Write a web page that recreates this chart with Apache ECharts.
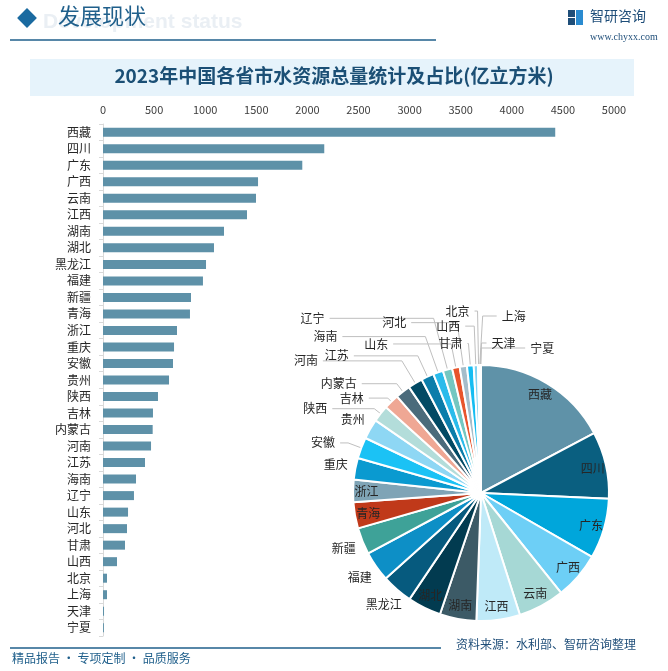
<!DOCTYPE html>
<html>
<head>
<meta charset="utf-8">
<script src="https://cdn.jsdelivr.net/npm/echarts@6/dist/echarts.min.js"></script>
<style>
html,body{margin:0;padding:0;background:#fff;}
#c{width:668px;height:671px;}
</style>
</head>
<body>
<div id="c"></div>
<script>
// ---- data ----
const provinces = ['西藏','四川','广东','广西','云南','江西','湖南','湖北','黑龙江','福建','新疆','青海','浙江','重庆','安徽','贵州','陕西','吉林','内蒙古','河南','江苏','海南','辽宁','山东','河北','甘肃','山西','北京','上海','天津','宁夏'];
const waterTotal = [4425,2165,1950,1517,1497,1409,1184,1086,1008,978,861,851,724,695,685,646,538,489,486,470,411,323,303,245,235,215,137,39,39,10,9];
const xTicks = [0,500,1000,1500,2000,2500,3000,3500,4000,4500,5000];

// ---- style config ----
const sliceColors = ['#5F92A8','#0A5F80','#00A6DB','#6DCFF6','#A6D8D5','#BFEAF8','#3C5A66','#023B50','#065A7E','#0D8FC6','#3EA298','#C0391A','#7FA4B6','#0A9AD0','#1BC2F5','#8ED7F4','#B3DDDA','#EFA794','#4B6B7B','#024A64','#0B7DAA','#2ABBEB','#74C7C1','#E8552C','#A5BDCA','#15BDF2','#7FD3F2','#A4D6D6','#C9EEF9','#4B6B7B','#8CB3C5'];
const insideLabels = ['西藏','四川','广东','广西','云南','江西','湖南','湖北','浙江','青海'];
const ringLabels = ['黑龙江','福建','新疆','重庆','贵州'];
// [length, length2] of label lines for the outside labels
const lineLen = {'安徽':[14,8],'陕西':[8,42],'吉林':[5,19],'内蒙古':[10,35],'河南':[26,79],'江苏':[23,64],'海南':[38,83],'辽宁':[53,104],'山东':[24,58],'河北':[44,46],'甘肃':[22,1],'山西':[39,9],'北京':[54,3],'上海':[49,14],'天津':[22,5],'宁夏':[17,44]};
const mirrorLabels = ['上海','天津','宁夏'];
const CX = 481, CY = 493, R = 128;

const FONT = '"Noto Sans CJK SC","Noto Sans",sans-serif';
const chart = echarts.init(document.getElementById('c'), null, {renderer:'canvas'});

const mainPieData = provinces.map((p,i)=>{
  const ll = lineLen[p];
  return {
    name:p, value:waterTotal[i],
    itemStyle:{color:sliceColors[i]},
    label:{show: !!ll},
    labelLine: ll ? {show:true, length:ll[0], length2:ll[1]} : {show:false}
  };
});
const overlayPieData = provinces.map((p,i)=>({
  name:p, value:waterTotal[i],
  label:{show: insideLabels.indexOf(p)>=0}
}));
const ringPieData = provinces.map((p,i)=>({
  name:p, value:waterTotal[i],
  label:{show: ringLabels.indexOf(p)>=0}
}));

const option = {
  backgroundColor:'#fff',
  animation:false,
  graphic:[
    {type:'text', left:43, top:12, z:1, style:{text:'Development status', font:'bold 21px Arial, "Liberation Sans"', fill:'#EAEFF4'}},
    {type:'rect', shape:{x:20,y:11,width:14,height:14}, rotation:Math.PI/4, originX:27, originY:18, style:{fill:'#1A6AA0'}, z:2},
    {type:'text', left:58, top:5, z:3, style:{text:'发展现状', font:'22px '+FONT, fill:'#1F5F8B'}},
    {type:'line', shape:{x1:10,y1:40,x2:436,y2:40}, style:{stroke:'#1F5F8B', lineWidth:1.5}},
    {type:'rect', shape:{x:568,y:10,width:7,height:7}, style:{fill:'#1F4E79'}},
    {type:'rect', shape:{x:568,y:18,width:7,height:7}, style:{fill:'#1F4E79'}},
    {type:'rect', shape:{x:576,y:10,width:7,height:15}, style:{fill:'#2A8BD0'}},
    {type:'text', left:590, top:9, style:{text:'智研咨询', font:'14px '+FONT, fill:'#1F4E79'}},
    {type:'text', left:590, top:32, style:{text:'www.chyxx.com', font:'10px "Liberation Serif", serif', fill:'#1F4E79'}},
    {type:'rect', shape:{x:30,y:59,width:604,height:37}, style:{fill:'#E6F3FB'}, z:0},
    {type:'text', left:'center', top:66, z:3, style:{text:'2023年中国各省市水资源总量统计及占比(亿立方米)', font:'bold 19px '+FONT, fill:'#1B4F75'}},
    {type:'line', shape:{x1:10,y1:648,x2:441,y2:648}, style:{stroke:'#1F5F8B', lineWidth:1.5}},
    {type:'text', left:12, top:652, style:{text:'精品报告 · 专项定制 · 品质服务', font:'12px '+FONT, fill:'#1F5F8B'}},
    {type:'text', left:456, top:638, style:{text:'资料来源：水利部、智研咨询整理', font:'12px '+FONT, fill:'#1F4E79'}}
  ],
  grid:{left:103, right:54, top:124, bottom:35, containLabel:false},
  xAxis:{
    type:'value', position:'top', min:xTicks[0], max:xTicks[xTicks.length-1], interval:500,
    axisLine:{show:false}, axisTick:{show:false}, splitLine:{show:false},
    axisLabel:{fontSize:11, color:'#404040', fontFamily:FONT, margin:9, formatter:v=>String(v)}
  },
  yAxis:{
    type:'category', data:provinces, inverse:true,
    axisLine:{show:true, lineStyle:{color:'#D9D9D9'}},
    axisTick:{show:true, length:4, lineStyle:{color:'#D9D9D9'}},
    axisLabel:{fontSize:12, color:'#262626', fontFamily:FONT, margin:12}
  },
  series:[
    {type:'bar', data:waterTotal, barWidth:9, itemStyle:{color:'#5E91A8'}},
    {type:'pie', center:[CX,CY], radius:[0,R], startAngle:90, clockwise:true,
     avoidLabelOverlap:false, minShowLabelAngle:0,
     itemStyle:{borderColor:'#fff', borderWidth:2},
     label:{position:'outside', fontSize:12, color:'#262626', fontFamily:FONT},
     labelLine:{lineStyle:{color:'#BFBFBF', width:1}, minTurnAngle:10, maxSurfaceAngle:180},
     labelLayout:function(params){
       const name = provinces[params.dataIndex];
       if (mirrorLabels.indexOf(name) < 0) return {};
       const r = params.labelRect;
       const pts = params.labelLinePoints;
       const out = {x: 2*CX - (r.x + r.width), align:'left'};
       if (pts) out.labelLinePoints = pts.map((p,i)=> i===0 ? [p[0],p[1]] : [2*CX - p[0], p[1]]);
       return out;
     },
     data:mainPieData, z:3},
    {type:'pie', center:[CX,CY], radius:[95,R], startAngle:90, clockwise:true, silent:true,
     avoidLabelOverlap:false, minShowLabelAngle:0,
     itemStyle:{color:'rgba(0,0,0,0)'},
     label:{position:'inside', fontSize:12, color:'#262626', fontFamily:FONT},
     labelLine:{show:false},
     data:overlayPieData, z:4},
    {type:'pie', center:[CX,CY], radius:[120,170], startAngle:90, clockwise:true, silent:true,
     avoidLabelOverlap:false, minShowLabelAngle:0,
     itemStyle:{color:'rgba(0,0,0,0)'},
     label:{position:'inside', fontSize:12, color:'#262626', fontFamily:FONT},
     labelLine:{show:false},
     data:ringPieData, z:4}
  ]
};
chart.setOption(option);
</script>
</body>
</html>
